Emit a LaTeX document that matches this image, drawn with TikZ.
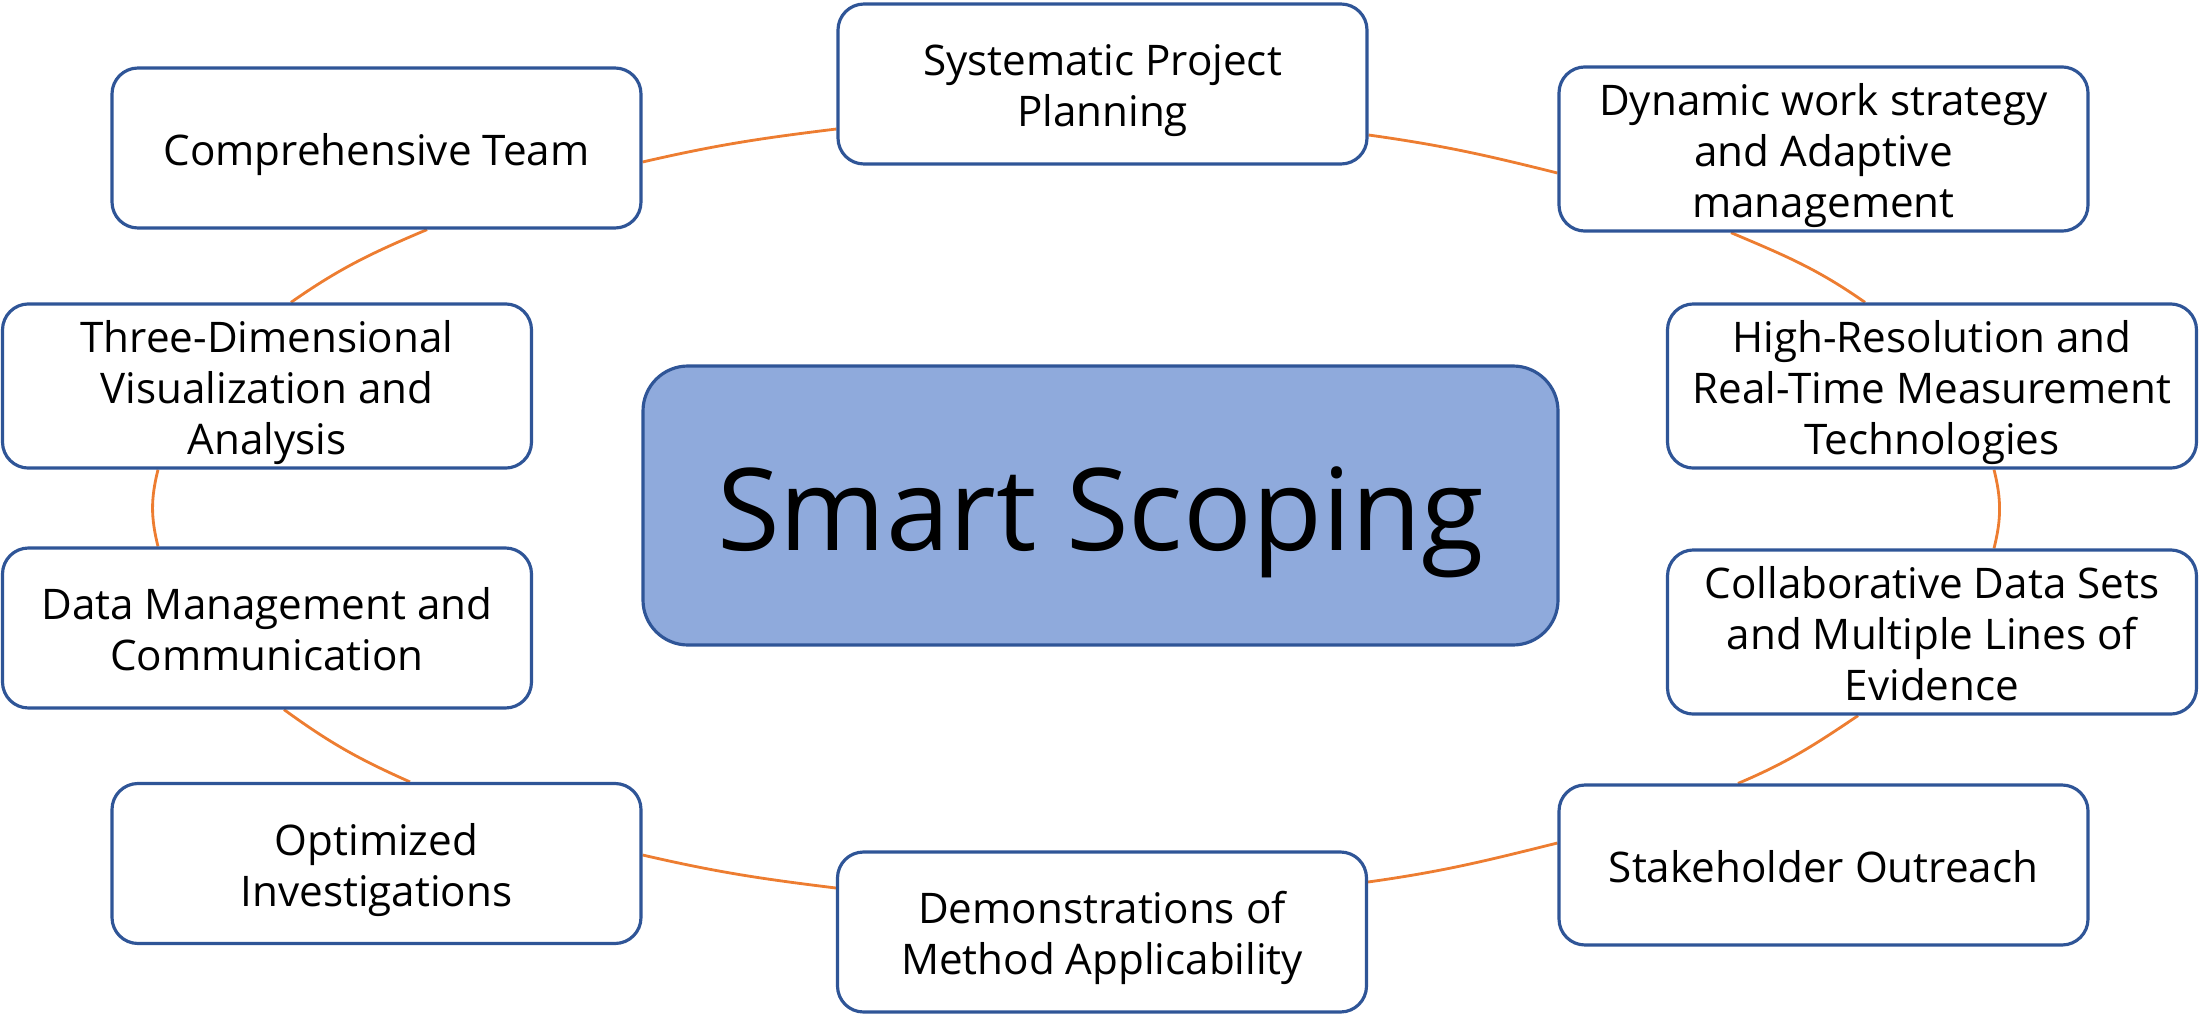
\documentclass[tikz,border=0pt]{standalone}
\usepackage{fontspec}
\setmainfont{Open Sans}
\usetikzlibrary{backgrounds}
\definecolor{boxblue}{HTML}{2F5597}
\definecolor{centerfill}{HTML}{8FAADC}
\definecolor{linkorange}{HTML}{ED7D31}
\newcommand\tstrut{\rule{0pt}{13.7pt}}
\newcommand\bstrut{\rule[-4pt]{0pt}{4pt}}
\tikzset{
  item/.style={draw=boxblue, line width=0.9pt, fill=white, rounded corners=0.26cm,
    minimum width=5.29cm, minimum height=1.6cm, inner sep=0pt, align=center,
    font=\fontsize{12}{14.5}\selectfont},
  hub/.style={draw=boxblue, line width=0.9pt, fill=centerfill, rounded corners=0.45cm,
    minimum width=9.15cm, minimum height=2.79cm, inner sep=0pt, align=center,
    text height=33.4pt, text depth=7.8pt,
    font=\fontsize{32.5}{38}\selectfont},
  link/.style={draw=linkorange, line width=0.8pt}
}
\begin{document}
\begin{tikzpicture}
\useasboundingbox (0,0) rectangle (22.05,10.15);
\node[hub] (hub) at (11.005,5.095) {Smart Scoping};
\node[item] (syst) at (11.025,9.31) {\tstrut Systematic Project\\Planning\bstrut};
\node[item] (comp) at (3.765,8.67) {\tstrut Comprehensive Team\bstrut};
\node[item] (dyn) at (18.235,8.66) {\tstrut Dynamic work strategy\\and Adaptive\\management\bstrut};
\node[item] (three) at (2.67,6.29) {\tstrut Three-Dimensional\\Visualization and\\Analysis\bstrut};
\node[item] (high) at (19.32,6.29) {\tstrut High-Resolution and\\Real-Time Measurement\\Technologies\bstrut};
\node[item] (data) at (2.67,3.87) {\tstrut Data Management and\\Communication\bstrut};
\node[item] (coll) at (19.32,3.83) {\tstrut Collaborative Data Sets\\and Multiple Lines of\\Evidence\bstrut};
\node[item] (opt) at (3.765,1.515) {\tstrut Optimized\\Investigations\bstrut};
\node[item] (stake) at (18.235,1.50) {\tstrut Stakeholder Outreach\bstrut};
\node[item] (demo) at (11.02,0.83) {\tstrut Demonstrations of\\Method Applicability\bstrut};
\begin{scope}[on background layer]
\draw[link] ([yshift=-0.14cm]comp.east) to[out=13,in=187] ([yshift=-0.45cm]syst.west);
\draw[link] ([yshift=-0.51cm]syst.east) to[out=-8,in=166] ([yshift=-0.24cm]dyn.west);
\draw[link] ([xshift=-0.925cm]dyn.south) to[out=-23,in=145] ([xshift=-0.67cm]high.north);
\draw[link] ([xshift=0.62cm]high.south) to[out=-76,in=76] ([xshift=0.62cm]coll.north);
\draw[link] ([xshift=-0.74cm]coll.south) to[out=-146,in=23] ([xshift=-0.855cm]stake.north);
\draw[link] ([yshift=0.22cm]stake.west) to[out=-166,in=8] ([yshift=0.50cm]demo.east);
\draw[link] ([yshift=0.44cm]demo.west) to[out=173,in=-13] ([yshift=0.085cm]opt.east);
\draw[link] ([xshift=0.335cm]opt.north) to[out=156,in=-36] ([xshift=0.17cm]data.south);
\draw[link] ([xshift=-1.09cm]data.north) to[out=104,in=-104] ([xshift=-1.09cm]three.south);
\draw[link] ([xshift=0.24cm]three.north) to[out=35,in=203] ([xshift=0.505cm]comp.south);
\end{scope}
\end{tikzpicture}
\end{document}
